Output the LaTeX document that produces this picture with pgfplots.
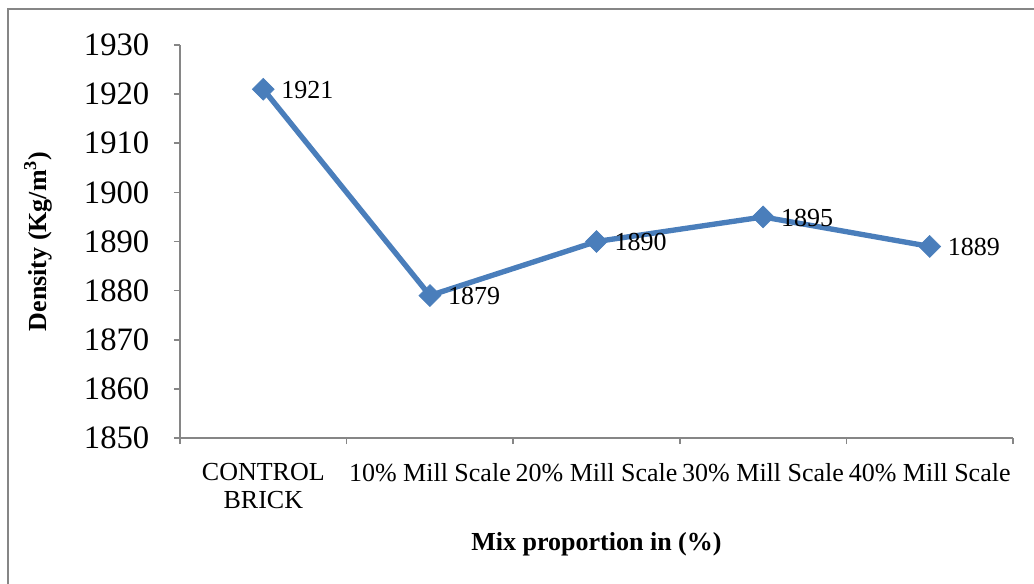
\documentclass[border=0pt]{standalone}
\usepackage{pgfplots}
\pgfplotsset{compat=1.18}
\usepackage{fontspec}
\setmainfont{Liberation Serif}
\definecolor{lineblue}{RGB}{74,126,187}
\definecolor{axisgray}{RGB}{134,134,134}
\begin{document}
\begin{tikzpicture}
\useasboundingbox (0,0) rectangle (775.5pt,437.25pt);
\draw[axisgray, line width=1.3pt] (6pt,-20pt) rectangle (800pt,430.5pt);
\begin{axis}[
  at={(135pt,108.75pt)}, anchor=south west,
  scale only axis, width=624.75pt, height=294.75pt,
  xmin=-0.5, xmax=4.5, ymin=1850, ymax=1930,
  ytick={1850,1860,...,1930},
  xtick={0,1,2,3,4},
  xticklabels={{CONTROL\\BRICK},{10\% Mill Scale},{20\% Mill Scale},{30\% Mill Scale},{40\% Mill Scale}},
  minor xtick={-0.5,0.5,1.5,2.5,3.5,4.5},
  major x tick style={draw=none},
  axis x line=bottom, axis y line=left,
  axis line style={axisgray, line width=1.2pt, -},
  every tick/.style={axisgray, line width=1.2pt},
  tick align=outside,
  major tick length=4.5pt, minor tick length=4.5pt,
  /pgf/number format/assume math mode=true,
  /pgf/number format/1000 sep={},
  yticklabel style={font=\fontsize{24.5}{28}\selectfont, xshift=-15pt},
  xticklabel style={font=\fontsize{19.5}{21}\selectfont, align=center, text depth=0pt, yshift=-11pt},
  ylabel={\textbf{Density (Kg/m\textsuperscript{3})}},
  ylabel style={font=\fontsize{19.5}{22}\selectfont, at={(axis description cs:-0.1705,0.5)}, anchor=center, rotate=0},
  xlabel={\textbf{Mix proportion in (\%)}},
  xlabel style={font=\fontsize{19.5}{22}\selectfont, at={(axis description cs:0.5,-0.2697)}, anchor=center},
  clip=false,
  nodes near coords,
  every node near coord/.append style={font=\fontsize{19.5}{22}\selectfont, anchor=west, xshift=10pt, yshift=-0.5pt, black},
]
\addplot[color=lineblue, line width=4pt, mark=square*, mark size=5.8pt,
  mark options={rotate=45, fill=lineblue, draw=lineblue, line width=0.5pt}]
  coordinates {(0,1921) (1,1879) (2,1890) (3,1895) (4,1889)};
\end{axis}
\end{tikzpicture}
\end{document}
